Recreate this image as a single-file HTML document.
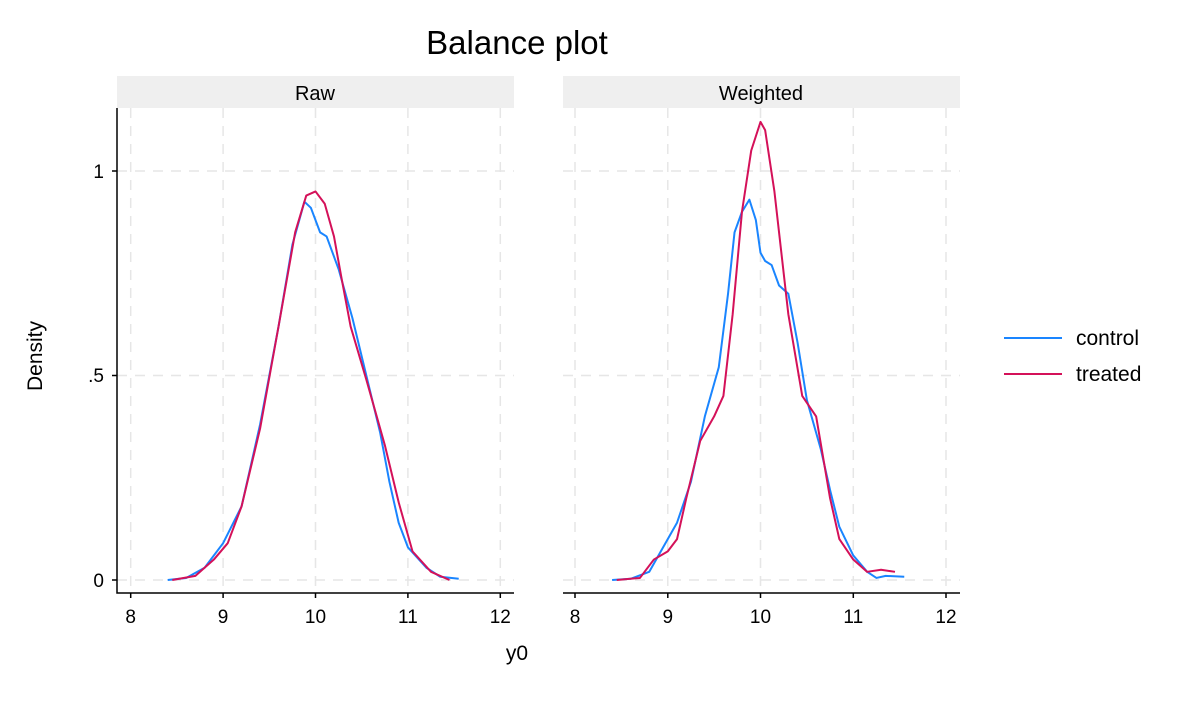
<!DOCTYPE html>
<html><head><meta charset="utf-8"><style>
body{margin:0;background:#fff;}
svg text{font-family:"Liberation Sans",Arial,sans-serif;fill:#000;}
</style></head><body>
<svg width="1200" height="720" viewBox="0 0 1200 720" xmlns="http://www.w3.org/2000/svg">
<rect width="1200" height="720" fill="#fff"/>
<text x="517" y="54" font-size="33" text-anchor="middle">Balance plot</text>
<rect x="117" y="76" width="397" height="32" fill="#efefef"/>
<rect x="563" y="76" width="397" height="32" fill="#efefef"/>
<text x="315" y="100" font-size="20" text-anchor="middle">Raw</text>
<text x="761" y="100" font-size="20" text-anchor="middle">Weighted</text>
<g stroke="#e6e6e6" stroke-width="1.5" stroke-dasharray="10,8" fill="none">
<path d="M130.7 108V593M223.1 108V593M315.5 108V593M407.9 108V593M500.3 108V593"/>
<path d="M117 580H514M117 375.5H514M117 171H514"/>
<path d="M575 108V593M667.8 108V593M760.5 108V593M853.3 108V593M946 108V593"/>
<path d="M563 580H960M563 375.5H960M563 171H960"/>
</g>
<g stroke="#000" stroke-width="1.5" fill="none">
<path d="M117 108V593H514"/>
<path d="M563 593H960"/>
<path d="M130.7 593v5M223.1 593v5M315.5 593v5M407.9 593v5M500.3 593v5"/>
<path d="M575 593v5M667.8 593v5M760.5 593v5M853.3 593v5M946 593v5"/>
<path d="M112 580h5M112 375.5h5M112 171h5"/>
</g>
<g font-size="19" text-anchor="middle">
<text x="130.7" y="623">8</text><text x="223.1" y="623">9</text><text x="315.5" y="623">10</text><text x="407.9" y="623">11</text><text x="500.3" y="623">12</text>
<text x="575" y="623">8</text><text x="667.8" y="623">9</text><text x="760.5" y="623">10</text><text x="853.3" y="623">11</text><text x="946" y="623">12</text>
</g>
<g font-size="19" text-anchor="end">
<text x="104" y="587">0</text><text x="104" y="382">.5</text><text x="104" y="178">1</text>
</g>
<text x="517" y="660" font-size="21" text-anchor="middle">y0</text>
<text transform="translate(42,356) rotate(-90)" font-size="21" text-anchor="middle">Density</text>
<g fill="none" stroke-width="2" stroke-linejoin="round">
<g transform="translate(130.7,580) scale(92.4,-409) translate(-8,0)">
<polyline vector-effect="non-scaling-stroke" stroke="#1a85ff" points="8.4,0 8.6,0.005 8.8,0.03 9.0,0.09 9.2,0.18 9.4,0.38 9.6,0.62 9.75,0.82 9.88,0.925 9.95,0.91 10.05,0.85 10.12,0.84 10.25,0.76 10.4,0.64 10.55,0.5 10.7,0.36 10.8,0.24 10.9,0.14 11.0,0.08 11.2,0.03 11.35,0.008 11.55,0.003"/>
<polyline vector-effect="non-scaling-stroke" stroke="#d41159" points="8.45,0 8.7,0.01 8.9,0.05 9.05,0.09 9.2,0.18 9.4,0.37 9.6,0.62 9.78,0.85 9.9,0.94 10.0,0.95 10.1,0.92 10.2,0.84 10.28,0.74 10.38,0.62 10.55,0.49 10.75,0.33 10.9,0.19 11.05,0.07 11.25,0.02 11.45,0"/>
</g>
<g transform="translate(575,580) scale(92.75,-409) translate(-8,0)">
<polyline vector-effect="non-scaling-stroke" stroke="#1a85ff" points="8.4,0 8.6,0.003 8.8,0.02 9.0,0.1 9.1,0.14 9.25,0.24 9.4,0.4 9.55,0.52 9.65,0.7 9.72,0.85 9.8,0.9 9.88,0.93 9.95,0.88 10.0,0.8 10.05,0.78 10.12,0.77 10.2,0.72 10.3,0.7 10.4,0.58 10.5,0.44 10.65,0.32 10.75,0.22 10.85,0.13 11.0,0.06 11.15,0.02 11.25,0.005 11.35,0.01 11.55,0.008"/>
<polyline vector-effect="non-scaling-stroke" stroke="#d41159" points="8.45,0 8.7,0.005 8.85,0.05 9.0,0.07 9.1,0.1 9.2,0.2 9.35,0.34 9.5,0.4 9.6,0.45 9.7,0.65 9.8,0.9 9.9,1.05 10.0,1.12 10.05,1.1 10.15,0.95 10.3,0.65 10.45,0.45 10.6,0.4 10.75,0.2 10.85,0.1 11.0,0.05 11.15,0.02 11.3,0.025 11.45,0.02"/>
</g>
</g>
<path d="M1004 338H1062" stroke="#1a85ff" stroke-width="2"/>
<path d="M1004 374H1062" stroke="#d41159" stroke-width="2"/>
<text x="1076" y="345" font-size="21">control</text>
<text x="1076" y="381" font-size="21">treated</text>
</svg>
</body></html>
